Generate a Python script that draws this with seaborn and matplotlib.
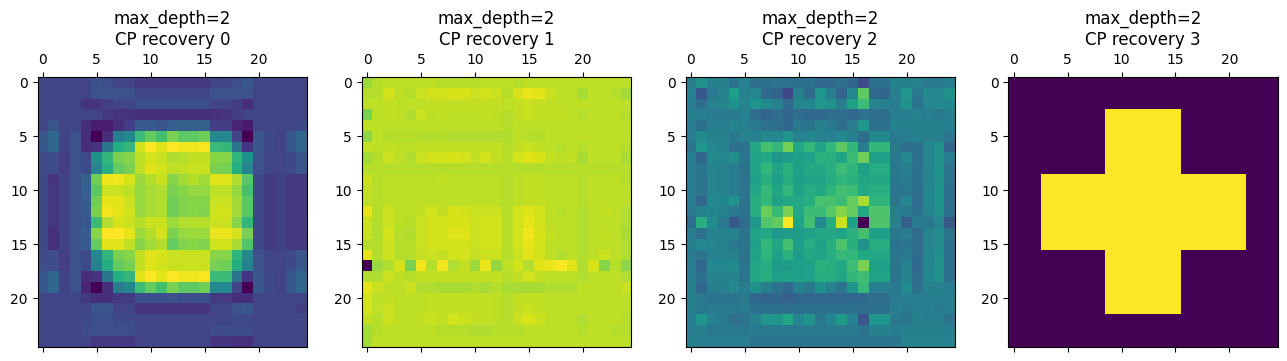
import matplotlib
matplotlib.use("Agg")
import matplotlib.pyplot as plt
import numpy as np
import seaborn as sns

titles = ["max_depth=2\nCP recovery 0", "max_depth=2\nCP recovery 1",
          "max_depth=2\nCP recovery 2", "max_depth=2\nCP recovery 3"]
tick_values = [0, 5, 10, 15, 20]

recovery_0 = [
 [20,20,20,20,20,25,24,20,20,17,17,17,17,17,17,17,21,21,24,27,20,20,20,20,20],
 [20,20,20,20,20,25,25,25,25,21,21,21,21,21,21,21,25,25,25,25,20,20,20,20,20],
 [20,20,20,20,15,15,18,21,21,24,24,24,24,24,24,24,20,20,18,14,20,20,20,20,20],
 [20,20,20,20,20,20,17,15,15,13,13,13,13,13,13,13,14,15,18,20,20,20,20,20,20],
 [20,26,20,20,13,8,8,14,18,28,28,26,30,30,30,30,18,18,10,7,20,20,20,20,22],
 [27,33,20,25,12,0,13,43,47,68,76,70,80,75,75,78,47,47,20,0,27,22,20,27,33],
 [27,33,20,25,13,15,38,62,66,93,100,95,100,98,98,99,68,66,38,15,27,22,20,27,33],
 [23,23,18,25,22,50,66,80,82,90,93,92,88,89,91,91,82,82,65,50,25,20,20,22,27],
 [23,23,18,25,22,45,63,76,80,90,95,93,90,91,92,92,80,79,62,45,25,20,20,22,27],
 [22,15,20,25,30,78,97,98,94,85,89,92,82,86,89,86,95,95,88,74,22,17,19,16,16],
 [22,16,20,25,30,74,92,92,90,84,87,88,80,82,84,84,90,90,84,70,22,17,19,16,16],
 [22,16,20,25,29,78,96,96,92,84,87,88,78,81,82,82,92,92,86,74,22,17,19,16,16],
 [22,16,20,25,29,80,98,96,93,84,87,88,78,81,82,81,93,93,86,74,22,17,19,16,16],
 [22,16,20,25,27,68,88,94,92,89,92,92,85,88,89,89,92,92,82,66,22,17,19,16,17],
 [22,14,20,25,29,82,100,100,96,85,89,93,80,84,85,85,97,97,93,80,22,17,19,16,16],
 [22,14,20,25,29,76,95,95,91,82,86,89,76,81,82,81,93,93,87,73,22,17,19,16,16],
 [23,23,18,25,22,47,65,80,82,91,95,94,92,92,92,92,82,82,65,47,25,20,20,22,27],
 [23,23,18,25,22,44,62,76,79,91,95,93,92,92,92,92,79,78,62,44,25,20,20,22,27],
 [27,33,20,25,13,15,38,62,66,95,100,96,100,98,98,99,68,68,38,15,27,22,20,27,33],
 [27,33,20,25,10,0,13,42,46,68,76,70,80,75,75,78,47,47,20,0,27,22,20,27,33],
 [20,20,20,20,17,14,14,17,17,24,24,24,25,24,24,24,17,17,13,13,20,20,20,20,20],
 [20,20,20,20,20,26,26,20,20,15,15,15,15,15,15,15,20,20,25,27,20,20,20,20,18],
 [21,21,21,21,22,24,24,22,22,21,21,21,21,21,21,21,21,21,22,22,21,21,21,21,21],
 [21,21,21,21,23,24,24,24,24,20,20,20,20,20,20,20,23,23,23,23,21,21,21,21,21],
 [20,20,20,20,20,16,16,16,16,20,20,20,20,20,20,20,15,15,14,14,20,20,20,20,20],
]

recovery_1 = [
 [85,89,90,90,90,90,90,89,89,89,89,90,90,90,89,90,90,90,90,90,90,90,90,90,90],
 [89,89,93,90,89,92,93,93,94,94,92,93,92,89,94,97,96,92,90,90,87,90,90,89,86],
 [90,90,91,90,90,90,91,91,91,91,91,91,91,90,91,92,91,90,90,90,90,90,90,90,90],
 [80,90,91,90,88,92,90,91,90,90,90,91,90,89,91,92,91,91,91,90,89,90,90,90,89],
 [90,90,90,90,90,90,90,90,90,90,90,90,90,89,90,90,90,90,90,90,90,90,90,90,90],
 [83,90,89,89,89,89,88,89,88,88,88,88,88,88,90,89,89,90,90,90,90,90,90,90,90],
 [91,90,91,90,90,91,91,91,91,91,91,91,91,89,91,92,91,90,89,90,89,90,90,90,89],
 [86,89,92,90,88,92,93,93,94,93,91,93,91,89,93,95,94,91,90,91,87,90,90,90,87],
 [89,89,89,89,89,89,89,89,89,89,89,89,89,89,89,89,89,89,89,89,89,89,89,89,89],
 [92,89,90,90,90,90,90,91,90,90,90,90,90,89,90,91,91,90,90,90,89,90,90,90,89],
 [91,89,90,90,90,90,90,90,90,90,90,90,90,89,90,91,91,90,90,90,89,90,90,90,90],
 [90,89,90,90,90,90,90,90,90,90,90,90,90,89,90,91,91,90,90,90,89,90,90,90,90],
 [96,89,92,90,90,91,93,91,94,93,92,92,92,89,93,95,93,90,89,90,88,90,91,90,88],
 [92,89,92,90,89,92,93,93,94,94,92,93,93,89,93,96,93,90,90,90,88,90,90,90,88],
 [92,88,93,89,88,92,93,93,95,95,92,93,93,89,93,98,94,91,90,90,88,90,91,90,87],
 [89,89,92,89,89,92,93,93,93,93,92,93,93,89,93,96,93,90,90,90,88,90,90,90,88],
 [96,89,92,89,89,91,92,91,93,93,91,92,92,89,92,95,93,90,88,90,88,90,92,90,88],
 [0,85,88,93,80,98,89,98,88,91,85,97,84,90,93,88,95,97,100,95,88,94,82,89,83],
 [88,88,92,90,89,91,91,91,91,91,91,91,91,89,91,93,91,90,90,90,88,90,90,90,88],
 [96,92,90,90,92,88,88,87,87,87,88,87,89,87,87,87,87,88,88,88,90,90,90,90,92],
 [93,90,91,90,90,90,91,91,91,91,91,91,90,89,91,91,91,90,90,90,90,90,90,90,90],
 [93,90,92,90,90,90,91,91,91,91,91,91,90,89,91,92,91,90,90,90,90,90,90,90,90],
 [91,89,92,90,90,91,92,91,93,92,91,91,90,89,92,94,92,90,90,90,88,90,90,90,89],
 [86,89,90,90,90,90,90,89,89,89,88,88,89,89,89,90,90,90,90,90,89,90,90,89,89],
 [86,90,90,90,90,90,90,90,90,90,90,90,90,90,90,90,90,90,90,90,90,90,90,90,90],
]

recovery_2 = [
 [42,50,43,43,38,44,36,37,38,38,37,37,34,34,37,33,23,37,37,43,43,44,40,40,42],
 [44,27,41,44,56,44,46,34,32,22,43,35,52,42,32,47,75,34,33,43,53,40,47,47,50],
 [42,36,44,45,50,44,52,48,43,34,46,46,53,50,43,57,68,45,43,42,50,38,47,47,47],
 [43,42,41,41,41,43,35,33,35,33,35,34,34,35,35,34,37,36,36,42,42,44,42,40,43],
 [42,37,42,42,45,43,41,37,36,33,40,38,43,41,36,42,53,37,37,43,43,43,43,43,43],
 [42,48,44,44,40,44,44,47,47,52,44,46,44,44,47,43,36,47,47,41,42,43,43,43,40],
 [39,52,47,44,37,37,60,70,66,79,60,66,58,66,75,66,42,66,66,40,36,37,46,50,33],
 [43,33,47,46,49,39,58,60,53,55,56,57,64,63,58,68,78,56,56,40,47,36,46,50,42],
 [42,39,45,44,42,38,59,66,58,64,56,60,60,63,68,65,56,62,62,40,42,37,45,51,38],
 [42,38,45,44,42,38,57,63,56,62,56,58,58,61,65,64,59,60,60,40,41,37,45,50,38],
 [42,38,45,44,42,38,60,67,59,66,57,62,60,65,70,68,60,63,63,39,40,36,46,51,37],
 [42,33,47,46,50,38,63,66,57,60,60,62,71,71,68,76,87,65,65,39,46,34,46,51,36],
 [41,44,46,44,41,38,62,77,67,80,60,68,68,74,82,76,60,72,72,42,40,37,45,50,37],
 [35,63,48,40,27,35,53,73,76,100,58,70,47,62,92,57,0,72,72,44,30,41,39,45,27],
 [42,37,44,44,44,38,58,60,54,55,55,56,60,60,58,64,70,56,56,40,42,35,45,49,38],
 [42,47,45,44,40,38,56,66,59,70,56,62,57,63,72,63,50,62,62,38,39,35,45,48,37],
 [41,38,44,44,43,38,58,65,56,64,55,60,58,62,67,66,60,60,60,39,41,35,45,50,37],
 [42,33,46,46,48,38,60,62,55,55,56,57,64,63,60,69,80,57,57,39,44,34,46,50,37],
 [42,37,45,45,45,38,60,63,56,57,56,57,63,62,59,66,69,58,58,39,44,35,47,50,37],
 [43,33,42,43,47,42,50,42,38,33,44,40,50,44,38,52,67,42,42,41,48,37,44,44,42],
 [43,41,38,38,39,41,33,32,33,30,33,33,33,33,33,33,34,35,35,41,42,42,42,42,43],
 [43,40,41,41,40,41,37,37,37,36,37,37,37,37,37,37,36,37,37,42,41,42,42,41,43],
 [42,53,44,41,36,38,43,52,52,60,46,52,40,45,55,44,26,52,52,41,38,43,42,43,38],
 [42,43,40,40,40,40,41,41,41,41,41,41,41,41,41,41,38,43,43,42,43,43,43,43,43],
 [43,42,42,42,42,42,39,39,39,39,39,39,39,39,39,39,39,39,39,39,44,44,44,44,44],
]

recovery_3 = [
 [0]*25, [0]*25, [0]*25,
 [0]*9 + [1]*7 + [0]*9, [0]*9 + [1]*7 + [0]*9, [0]*9 + [1]*7 + [0]*9,
 [0]*9 + [1]*7 + [0]*9, [0]*9 + [1]*7 + [0]*9, [0]*9 + [1]*7 + [0]*9,
 [0]*3 + [1]*19 + [0]*3, [0]*3 + [1]*19 + [0]*3, [0]*3 + [1]*19 + [0]*3,
 [0]*3 + [1]*19 + [0]*3, [0]*3 + [1]*19 + [0]*3, [0]*3 + [1]*19 + [0]*3,
 [0]*3 + [1]*19 + [0]*3,
 [0]*9 + [1]*7 + [0]*9, [0]*9 + [1]*7 + [0]*9, [0]*9 + [1]*7 + [0]*9,
 [0]*9 + [1]*7 + [0]*9, [0]*9 + [1]*7 + [0]*9, [0]*9 + [1]*7 + [0]*9,
 [0]*25, [0]*25, [0]*25,
]

W, H = 1287, 361
lefts = [37.5, 361.7, 685.5, 1008.3]
size = 269.6
top = 77

fig = plt.figure(figsize=(W / 100, H / 100), dpi=100)
for left, title, matrix in zip(lefts, titles, [recovery_0, recovery_1, recovery_2, recovery_3]):
    ax = fig.add_axes([left / W, 1 - (top + size) / H, size / W, size / H])
    sns.heatmap(np.array(matrix, dtype=float), ax=ax, cmap="viridis", cbar=False,
                square=False, xticklabels=False, yticklabels=False)
    ax.set_xticks([v + 0.5 for v in tick_values], labels=[str(v) for v in tick_values])
    ax.set_yticks([v + 0.5 for v in tick_values], labels=[str(v) for v in tick_values])
    ax.tick_params(axis="x", top=True, bottom=True, labeltop=True, labelbottom=False,
                   labelrotation=0, length=3.5, width=0.8, labelsize=10)
    ax.tick_params(axis="y", left=True, labelleft=True, labelrotation=0,
                   length=3.5, width=0.8, labelsize=10)
    for spine in ax.spines.values():
        spine.set_visible(True)
        spine.set_linewidth(0.8)
    ax.set_title(title, fontsize=12, pad=6)

fig.savefig("out.png", dpi=100)
